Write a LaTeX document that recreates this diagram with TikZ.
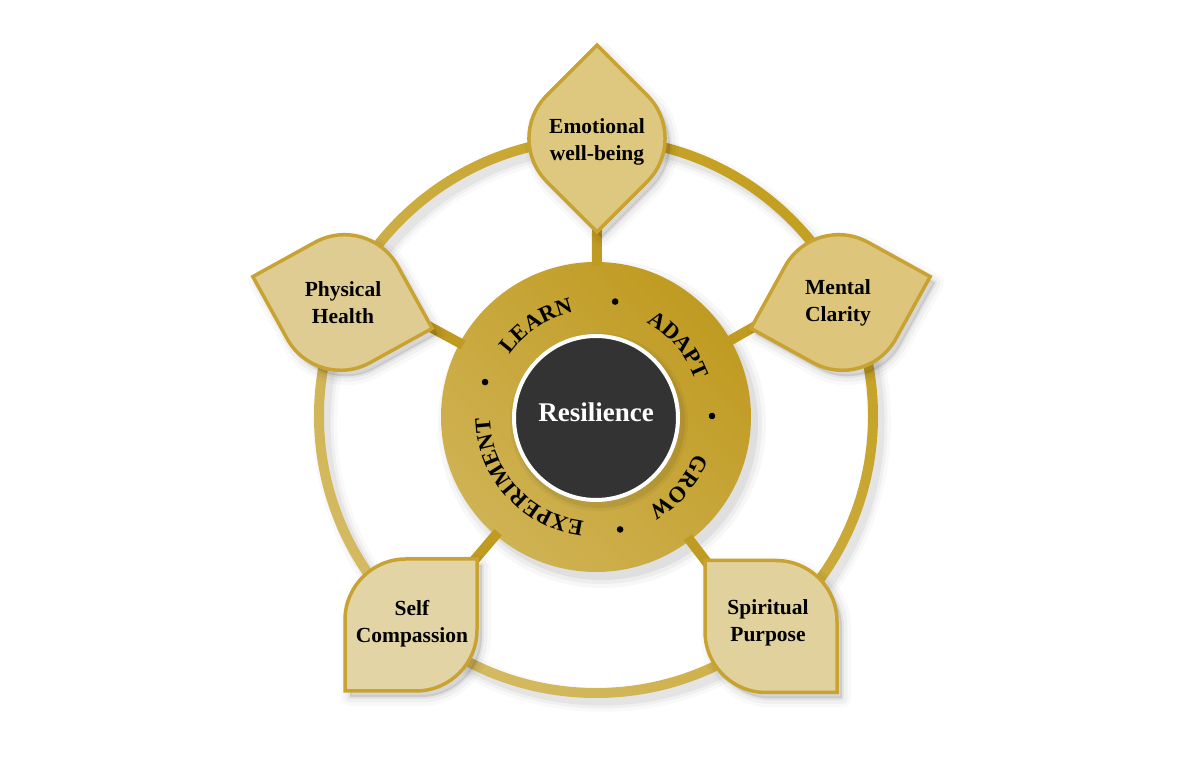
\documentclass[tikz,border=0pt]{standalone}
\usepackage{fontspec}
\setmainfont{Liberation Serif}
\usetikzlibrary{decorations.text}
\definecolor{outD}{HTML}{C4A021}
\definecolor{outL}{HTML}{D4BA62}
\definecolor{ringD}{HTML}{C09B22}
\definecolor{ringL}{HTML}{CFB253}
\definecolor{petalEdge}{HTML}{C8A332}
\definecolor{pEW}{HTML}{DEC77E}
\definecolor{pMC}{HTML}{DDC57C}
\definecolor{pPH}{HTML}{DFCC92}
\definecolor{pSP}{HTML}{E1D19D}
\definecolor{pSC}{HTML}{E2D4A5}
\definecolor{core}{HTML}{333333}
\newcommand\rft{\fontsize{22.5}{22.5}\selectfont\bfseries}
\newcommand\pft{\fontsize{21.5}{27}\selectfont\bfseries}
\newcommand\cft{\fontsize{27}{27}\selectfont\bfseries}
\begin{document}
\begin{tikzpicture}[x=1pt,y=1pt,
  leaf/.pic={\path[pic actions] (-66,66) -- (5,66) arc[start angle=90,end angle=0,radius=61] -- (66,-66) -- (-5,-66) arc[start angle=270,end angle=180,radius=61] -- cycle;},
  leafshadow/.pic={\foreach \w/\o in {18/0.025,11/0.035,4/0.05}{\path[fill=black,draw=black,line width=\w,line join=round,opacity=\o] (-66,66) -- (5,66) arc[start angle=90,end angle=0,radius=61] -- (66,-66) -- (-5,-66) arc[start angle=270,end angle=180,radius=61] -- cycle;}},
  petal/.style={draw=petalEdge, line width=3.5, line join=miter},
  ptext/.style={font=\pft, align=center, text=black, inner sep=0},
  spoke/.style={draw=ringD, line width=10, shorten <=-4, shorten >=-8},
  ringword/.style={decorate, decoration={text along path, text={|\rft|#1}, text align=center}},
]
\useasboundingbox (0,0) rectangle (1200,775);
\begin{scope}[shift={(596,359)}]
  % outer ring shadow and ring
  \foreach \w/\o in {24/0.025,17/0.035,11/0.05}{\draw[black, line width=\w, opacity=\o] (6,-7) circle (277);}
  \shade[even odd rule, top color=outD, bottom color=outL, shading angle=-45] (0,0) circle (282) (0,0) circle (272);
  % centre ring shadow
  \foreach \e/\o in {9/0.03,5/0.04,1/0.06}{\fill[black, opacity=\o] (6,-8) circle (155+\e);}
  % petal inner tips
  \coordinate (ewIn) at (1,184);
  \coordinate (mcIn) at (156,88);
  \coordinate (phIn) at (-164,88);
  \coordinate (spIn) at (109,-144);
  \coordinate (scIn) at (-119,-141);
  % centre ring
  \node[circle, minimum size=310, inner sep=0, top color=ringD, bottom color=ringL, shading angle=-45] (ring) at (0,-1) {};
  \draw[spoke] (ring) -- (ewIn);
  \draw[spoke] (ring) -- (mcIn);
  \draw[spoke] (ring) -- (phIn);
  \draw[spoke] (ring) -- (spIn);
  \draw[spoke] (ring) -- (scIn);
  % core
  \foreach \e/\o in {5/0.04,2/0.06}{\fill[black, opacity=\o] (3,-6) circle (84+\e);}
  \node[circle, minimum size=164, inner sep=0, fill=core, draw=white, line width=4] (core) at (0,-2) {};
  \node[font=\cft, text=white, inner sep=0] (res) at (0,4) {Resilience};
  % ring words
  \path[ringword=LEARN] (163.5:106) arc[start angle=163.5, end angle=83.5, radius=106];
  \path[ringword=ADAPT] (80.75:106) arc[start angle=80.75, end angle=0.75, radius=106];
  \path[ringword=GROW] (-0.75:106) arc[start angle=-0.75, end angle=-80.75, radius=106];
  \path[ringword=EXPERIMENT] (272.3:106) arc[start angle=272.3, end angle=172.3, radius=106];
  \foreach \a in {80.5,0,-78,163}{\fill[black] (\a:116) circle (3.3);}
  % petal shadows
  \pic[rotate=135] at (6,271.5) {leafshadow};
  \pic[rotate=61.1] at (249.5,107.5) {leafshadow};
  \pic[rotate=28.9] at (-248.5,107.5) {leafshadow};
  \pic[rotate=0] at (180,-216.5) {leafshadow};
  \pic[rotate=90] at (-180,-215) {leafshadow};
  % petals
  \pic[petal, fill=pEW, rotate=135] at (1,277.5) {leaf};
  \pic[petal, fill=pMC, rotate=61.1] at (244.5,113.5) {leaf};
  \pic[petal, fill=pPH, rotate=28.9] at (-253.5,113.5) {leaf};
  \pic[petal, fill=pSP, rotate=0] at (175,-210.5) {leaf};
  \pic[petal, fill=pSC, rotate=90] at (-185,-209) {leaf};
  % petal labels
  \node[ptext] (ew) at (1,274) {Emotional\\well-being};
  \node[ptext] (mc) at (242,113) {Mental\\Clarity};
  \node[ptext] (ph) at (-253,113) {Physical\\Health};
  \node[ptext] (sp) at (172,-207) {Spiritual\\Purpose};
  \node[ptext] (sc) at (-184,-208) {Self\\Compassion};
\end{scope}
\end{tikzpicture}
\end{document}
